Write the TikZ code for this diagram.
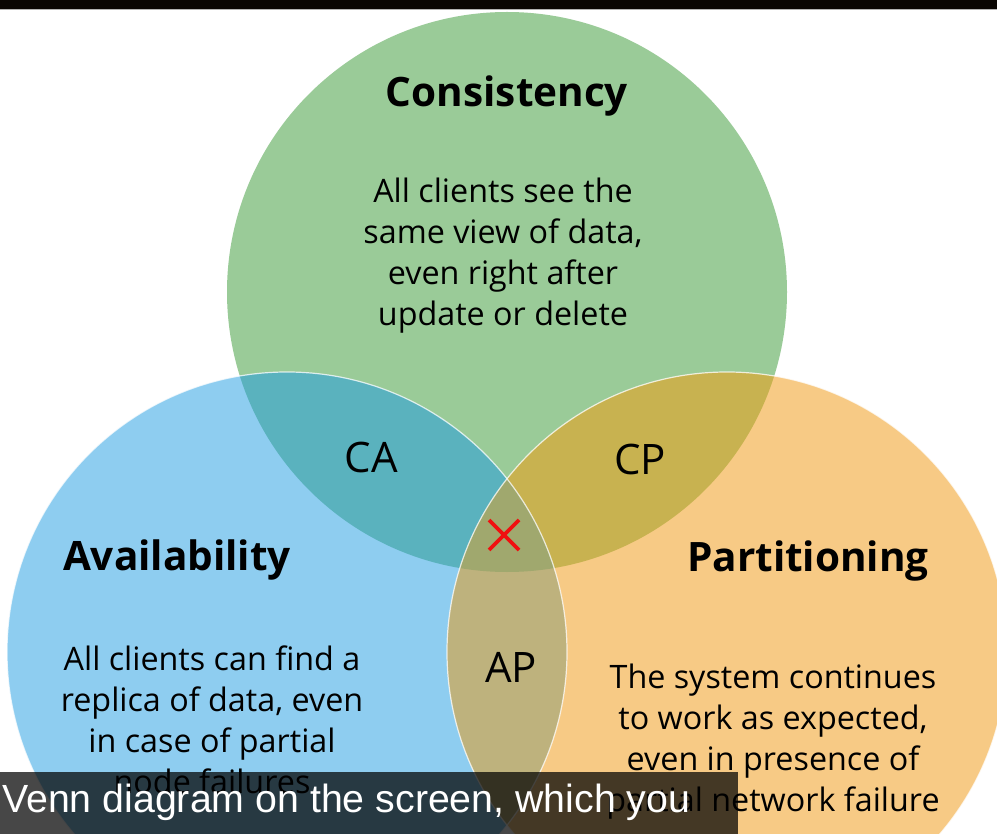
\documentclass[tikz,border=0pt]{standalone}
\usepackage{fontspec}
\setmainfont{Open Sans}
\newfontfamily\capfont{Liberation Sans}
\definecolor{cG}{HTML}{9ACB98}
\definecolor{cB}{HTML}{8ECDF0}
\definecolor{cO}{HTML}{F7CA85}
\definecolor{cGB}{HTML}{5AB2BE}
\definecolor{cGO}{HTML}{C8B250}
\definecolor{cBO}{HTML}{BEB27D}
\definecolor{cAll}{HTML}{A0A86E}
\definecolor{crossred}{HTML}{F01010}
\tikzset{
  titletext/.style={font=\fontsize{40.5}{46}\selectfont\bfseries, text=black, inner sep=0pt, anchor=base},
  bodytext/.style={font=\fontsize{32.3}{41}\selectfont, align=center, text=black, inner sep=0pt},
  lenstext/.style={font=\fontsize{42}{46}\selectfont, text=black, inner sep=0pt, anchor=base},
  rim/.style={draw=white, draw opacity=0.75, line width=1.2pt},
  crossline/.style={draw=crossred, line width=3.6pt},
}
\begin{document}
\begin{tikzpicture}[x=1pt,y=-1pt]
\useasboundingbox (0,0) rectangle (997,834);
\clip (0,0) rectangle (997,834);
\fill[white] (0,0) rectangle (997,834);
% top bar
\fill[black!95!brown] (0,0) rectangle (997,9);
\draw[gray!60, line width=1pt] (0,10) -- (997,10);
% circle centres
\coordinate (gc) at (507,292);
\coordinate (bc) at (287,652);
\coordinate (oc) at (727,652);
% base fills
\fill[cG] (gc) circle[radius=280pt];
\fill[cB] (bc) circle[radius=280pt];
\fill[cO] (oc) circle[radius=280pt];
% overlaps
\begin{scope}
  \clip (gc) circle[radius=280pt];
  \fill[cGB] (bc) circle[radius=280pt];
  \fill[cGO] (oc) circle[radius=280pt];
\end{scope}
\begin{scope}
  \clip (bc) circle[radius=280pt];
  \fill[cBO] (oc) circle[radius=280pt];
\end{scope}
\begin{scope}
  \clip (gc) circle[radius=280pt];
  \clip (bc) circle[radius=280pt];
  \fill[cAll] (oc) circle[radius=280pt];
\end{scope}
% rims
\draw[rim] (bc) circle[radius=280pt];
\draw[rim] (oc) circle[radius=280pt];
% texts
\node[titletext] (tc) at (507,107) {Consistency};
\node[bodytext] (bcn) at (503,256) {All clients see the\\same view of data,\\even right after\\update or delete};
\node[titletext] (ta) at (177,570) {Availability};
\node[bodytext] (ba) at (212,720) {All clients can find a\\replica of data, even\\in case of partial\\node failures};
\node[titletext] (tp) at (808,571) {Partitioning};
\node[bodytext] (bp) at (773,742) {The system continues\\to work as expected,\\even in presence of\\partial network failure};
\node[lenstext] (ca) at (371.5,472) {CA};
\node[lenstext] (cp) at (640,475) {CP};
\node[lenstext] (ap) at (511,682) {AP};
% red cross
\coordinate (x1) at (489,520);
\coordinate (x2) at (519,550);
\coordinate (x3) at (489,550);
\coordinate (x4) at (519,520);
\draw[crossline] (x1) -- (x2);
\draw[crossline] (x3) -- (x4);
% caption bar
\fill[black, fill opacity=0.72] (0,772) rectangle (738,834);
\node[font=\capfont\fontsize{39.3}{44}\selectfont, text=white, anchor=base west, inner sep=0pt] (cap) at (2,812) {Venn diagram on the screen, which you};
\end{tikzpicture}
\end{document}
